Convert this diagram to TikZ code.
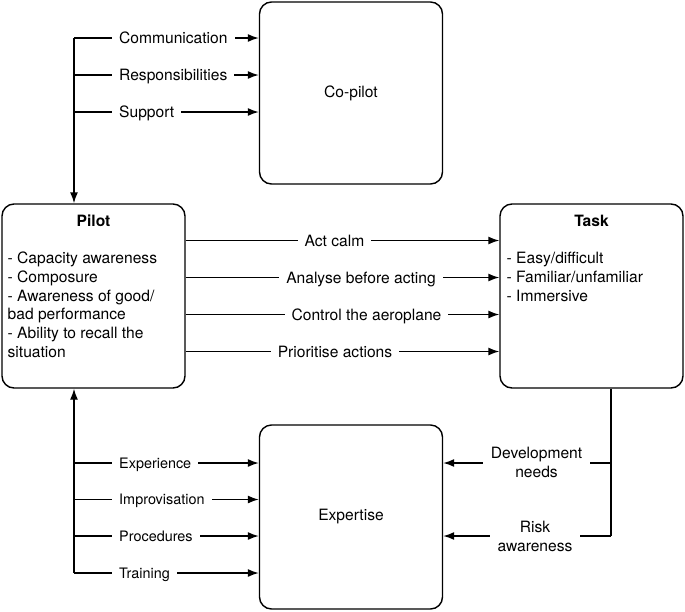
\documentclass[tikz,border=0pt]{standalone}
\usepackage{fontspec}
\setmainfont{TeX Gyre Heros}
\usetikzlibrary{arrows.meta}
\newcommand\myfs{\fontsize{15.6}{18.7}\selectfont}
\newcommand\mysm{\fontsize{14.4}{18}\selectfont}
\begin{document}
\begin{tikzpicture}[x=1pt,y=-1pt,
  box/.style={draw, line width=1.4pt, rounded corners=12pt, minimum width=183pt, inner sep=0pt, font=\myfs},
  ln/.style={line width=1.4pt},
  arr/.style={ln, -{Latex[length=11pt,width=8pt]}},
  lbl/.style={fill=white, inner xsep=7pt, inner ysep=1pt, text height=13pt, text depth=2pt, font=\myfs},
  lbls/.style={lbl, font=\mysm, text height=12.5pt, text depth=2pt},
  lblr/.style={fill=white, inner xsep=8pt, inner ysep=1pt, align=center, font=\fontsize{15.6}{19}\selectfont},
  ttl/.style={font=\myfs\bfseries, inner sep=0pt},
  lst/.style={font=\myfs, align=left, inner sep=0pt, anchor=north west}]
\useasboundingbox (0,0) rectangle (685,611);
% boxes
\node[box, minimum height=182pt] (copilot) at (351,93) {Co-pilot};
\node[box, minimum height=184pt] (pilot) at (93.5,296) {};
\node[box, minimum height=184pt] (task) at (591.5,296) {};
\node[box, minimum height=184pt] (expertise) at (351,517) {Expertise};
% box texts
\node[ttl] (pilotT) at (93.5,221) {Pilot};
\node[lst] (pilotL) at (7.5,252) {- Capacity awareness\\- Composure\\- Awareness of good/\\bad performance\\- Ability to recall the\\situation};
\node[ttl] (taskT) at (591.5,221) {Task};
\node[lst] (taskL) at (506.5,252) {- Easy/difficult\\- Familiar/unfamiliar\\- Immersive};
% top connectors
\coordinate (c1) at (74,38);
\coordinate (c2) at (74,75);
\coordinate (c3) at (74,112);
\draw[arr] (c1) -- (c1 |- pilot.north);
\draw[arr] (c1) -- (c1 -| copilot.west);
\draw[arr] (c2) -- (c2 -| copilot.west);
\draw[arr] (c3) -- (c3 -| copilot.west);
\node[lbl, anchor=west] (l1) at (112,38) {Communication};
\node[lbl, anchor=west] (l2) at (112,75) {Responsibilities};
\node[lbl, anchor=west] (l3) at (112,112) {Support};
% pilot to task
\coordinate (p1) at (0,240.5);
\coordinate (p2) at (0,277.5);
\coordinate (p3) at (0,314.5);
\coordinate (p4) at (0,351.5);
\draw[arr] (p1 -| pilot.east) -- (p1 -| task.west);
\draw[arr] (p2 -| pilot.east) -- (p2 -| task.west);
\draw[arr] (p3 -| pilot.east) -- (p3 -| task.west);
\draw[arr] (p4 -| pilot.east) -- (p4 -| task.west);
\node[lbl] (m1) at (334.5,240.5) {Act calm};
\node[lbl] (m2) at (361,277.5) {Analyse before acting};
\node[lbl] (m3) at (366.5,314.5) {Control the aeroplane};
\node[lbl] (m4) at (335,351.5) {Prioritise actions};
% bottom connectors
\coordinate (b1) at (74,463);
\coordinate (b2) at (74,499.5);
\coordinate (b3) at (74,536);
\coordinate (b4) at (74,573);
\draw[arr] (b4) -- (b4 |- pilot.south);
\draw[arr] (b1) -- (b1 -| expertise.west);
\draw[arr] (b2) -- (b2 -| expertise.west);
\draw[arr] (b3) -- (b3 -| expertise.west);
\draw[arr] (b4) -- (b4 -| expertise.west);
\node[lbls, anchor=west] (e1) at (112,463) {Experience};
\node[lbls, anchor=west] (e2) at (112,499.5) {Improvisation};
\node[lbls, anchor=west] (e3) at (112,536) {Procedures};
\node[lbls, anchor=west] (e4) at (112,573) {Training};
% right connectors
\coordinate (tb) at (611,0);
\coordinate (r1) at (611,463);
\coordinate (r2) at (611,536);
\draw[ln] (tb |- task.south) -- (r2);
\draw[arr] (r1) -- (r1 -| expertise.east);
\draw[arr] (r2) -- (r2 -| expertise.east);
\node[lblr] (d1) at (536.5,462.5) {Development\\needs};
\node[lblr] (d2) at (535,536.5) {Risk\\awareness};
\end{tikzpicture}
\end{document}
